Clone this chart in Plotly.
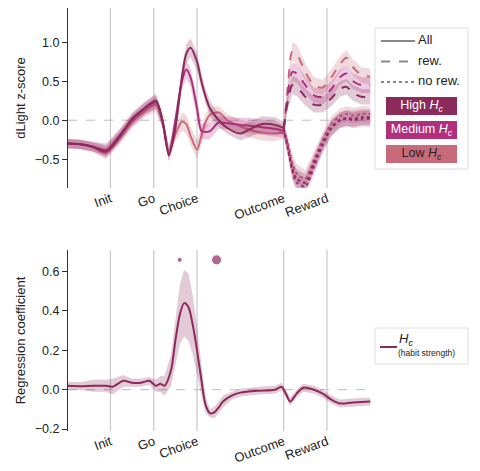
import plotly.graph_objects as go

# time axis in arbitrary units; events
event_t = [10, 20, 30, 50, 60]
event_lab = ["Init", "Go", "Choice", "Outcome", "Reward"]

HIGH = "#8c2a5c"
MED = "#b0307e"
LOW = "#c96a7a"

# "All" traces up to outcome
t_all = [0, 3, 6, 9, 12, 15, 18, 20.5, 22, 23.5, 25, 26.5, 27.5, 28.5, 30, 31, 32, 33, 35, 37, 40, 42, 45, 48, 50]
high_all = [-0.3, -0.31, -0.34, -0.4, -0.22, 0.02, 0.16, 0.25, 0.0, -0.45, -0.1, 0.55, 0.85, 0.93, 0.75, 0.5, 0.3, 0.15, 0.0, -0.1, -0.17, -0.12, -0.05, -0.06, -0.1]
med_all = [-0.3, -0.31, -0.34, -0.38, -0.2, 0.0, 0.15, 0.23, 0.0, -0.44, 0.0, 0.5, 0.65, 0.55, 0.15, -0.14, -0.15, -0.14, -0.03, -0.04, -0.06, -0.07, -0.09, -0.11, -0.14]
low_all = [-0.3, -0.31, -0.35, -0.42, -0.24, -0.02, 0.12, 0.2, -0.02, -0.4, -0.18, -0.02, -0.05, -0.2, -0.38, -0.2, -0.02, 0.07, 0.1, 0.0, -0.08, -0.12, -0.16, -0.17, -0.16]
band_all = [0.06, 0.06, 0.06, 0.08, 0.08, 0.08, 0.08, 0.09, 0.08, 0.08, 0.1, 0.12, 0.12, 0.12, 0.12, 0.1, 0.1, 0.1, 0.08, 0.08, 0.09, 0.1, 0.1, 0.1, 0.08]

# after outcome: rewarded / unrewarded
t_post = [50, 51, 52, 53, 55, 57, 59, 61, 63, 64.5, 66, 68, 70]
high_rew = [-0.1, 0.25, 0.45, 0.43, 0.3, 0.2, 0.2, 0.28, 0.4, 0.43, 0.35, 0.3, 0.3]
med_rew = [-0.12, 0.35, 0.62, 0.6, 0.45, 0.32, 0.3, 0.4, 0.55, 0.6, 0.5, 0.45, 0.45]
low_rew = [-0.15, 0.45, 0.88, 0.85, 0.62, 0.45, 0.42, 0.55, 0.72, 0.8, 0.68, 0.58, 0.56]
high_nr = [-0.1, -0.35, -0.62, -0.75, -0.8, -0.55, -0.3, -0.1, 0.0, 0.02, 0.0, 0.02, 0.02]
med_nr = [-0.12, -0.38, -0.65, -0.8, -0.85, -0.6, -0.32, -0.1, 0.0, 0.03, 0.02, 0.04, 0.04]
low_nr = [-0.15, -0.3, -0.55, -0.68, -0.75, -0.5, -0.25, -0.05, 0.05, 0.08, 0.06, 0.08, 0.08]
band_post = [0.08, 0.1, 0.12, 0.12, 0.11, 0.1, 0.1, 0.1, 0.1, 0.1, 0.1, 0.1, 0.1]

# regression coefficient of H_c
t_reg = [0, 3, 6, 9, 10.5, 13, 15, 17, 19, 20.5, 21.5, 22.5, 24, 25, 26, 27, 28, 29, 30, 31, 32, 33, 34, 35, 36, 38, 40, 44, 48, 49.5, 50.5, 51.5, 53, 54.5, 57, 59, 61, 63, 66, 70]
reg = [0.02, 0.018, 0.02, 0.02, 0.015, 0.045, 0.035, 0.035, 0.045, 0.02, 0.03, 0.02, 0.1, 0.25, 0.38, 0.44, 0.42, 0.33, 0.2, 0.05, -0.08, -0.12, -0.115, -0.09, -0.06, -0.03, -0.015, -0.005, 0.0, 0.015, -0.02, -0.06, -0.02, 0.01, 0.0, -0.02, -0.05, -0.07, -0.065, -0.06]
reg_band = [0.02, 0.02, 0.03, 0.03, 0.04, 0.03, 0.02, 0.02, 0.02, 0.03, 0.04, 0.05, 0.08, 0.12, 0.15, 0.17, 0.17, 0.15, 0.12, 0.08, 0.04, 0.02, 0.03, 0.03, 0.03, 0.02, 0.02, 0.02, 0.02, 0.02, 0.02, 0.02, 0.02, 0.02, 0.02, 0.02, 0.02, 0.02, 0.02, 0.02]
sig_t = [26, 34.5]
sig_y = [0.66, 0.66]
sig_size = [5, 10]

ML, MT, MB = 68, 8, 40


def rgba(hexc, a):
    h = hexc.lstrip("#")
    return "rgba(%d,%d,%d,%s)" % (int(h[0:2], 16), int(h[2:4], 16), int(h[4:6], 16), a)


def add_band(fig, t, y, b, color, dash, row_axes):
    xa, ya = row_axes
    up = [v + e for v, e in zip(y, b)]
    lo = [v - e for v, e in zip(y, b)]
    fig.add_trace(go.Scatter(x=t + t[::-1], y=up + lo[::-1], fill="toself", fillcolor=rgba(color, 0.25),
                             line=dict(width=0), hoverinfo="skip", showlegend=False, xaxis=xa, yaxis=ya))
    fig.add_trace(go.Scatter(x=t, y=y, mode="lines",
                             line=dict(color=color, width=2, dash=dash, shape="spline", smoothing=0.8),
                             showlegend=False, xaxis=xa, yaxis=ya))


def legend_text(fig, x, y, s, size=12, color="#222222", pos="middle right"):
    # legend labels drawn on a hidden pixel-space axis
    fig.add_trace(go.Scatter(x=[x], y=[y], mode="text", text=[s], textposition=pos,
                             textfont=dict(size=size, color=color), hoverinfo="skip",
                             showlegend=False, xaxis="x3", yaxis="y3"))


fig = go.Figure()

for y, c in [(low_all, LOW), (med_all, MED), (high_all, HIGH)]:
    add_band(fig, t_all, y, band_all, c, "solid", ("x", "y"))
for y, c in [(low_rew, LOW), (med_rew, MED), (high_rew, HIGH)]:
    add_band(fig, t_post, y, band_post, c, "dash", ("x", "y"))
for y, c in [(low_nr, LOW), (med_nr, MED), (high_nr, HIGH)]:
    add_band(fig, t_post, y, band_post, c, "dot", ("x", "y"))

add_band(fig, t_reg, reg, reg_band, HIGH, "solid", ("x2", "y2"))
fig.add_trace(go.Scatter(x=sig_t, y=sig_y, mode="markers", marker=dict(color=HIGH, size=sig_size),
                         showlegend=False, xaxis="x2", yaxis="y2"))

shapes = []
for xr, yr, y0, y1 in [("x", "y", -0.87, 1.44), ("x2", "y2", -0.21, 0.71)]:
    for t in event_t:
        shapes.append(dict(type="line", xref=xr, yref=yr, x0=t, x1=t, y0=y0, y1=y1,
                           line=dict(color="#c8c8c8", width=1.2), layer="below"))
    shapes.append(dict(type="line", xref=xr, yref=yr, x0=0.2, x1=70.4, y0=0, y1=0,
                       line=dict(color="#bbbbbb", width=1, dash="dash"), layer="below"))

# legend for top panel
L = dict(xref="x3", yref="y3")
shapes.append(dict(type="rect", x0=375, x1=468, y0=28, y1=169, line=dict(color="#dddddd", width=1),
                   fillcolor="white", layer="below", **L))
for i, (lab, dash) in enumerate([("All", "solid"), ("rew.", "dash"), ("no rew.", "dot")]):
    yy = 41 + i * 20.5
    shapes.append(dict(type="line", x0=381, x1=415, y0=yy, y1=yy, line=dict(color="#888888", width=2, dash=dash), **L))
    legend_text(fig, 418, yy, lab, size=13)
for i, (lab, c, fc) in enumerate([("High <i>H<sub>c</sub></i>", HIGH, "white"),
                                  ("Medium <i>H<sub>c</sub></i>", MED, "white"),
                                  ("Low <i>H<sub>c</sub></i>", LOW, "#222222")]):
    y0 = 97 + i * 24
    shapes.append(dict(type="rect", x0=386, x1=457, y0=y0, y1=y0 + 18, line=dict(width=0), fillcolor=c,
                       layer="below", **L))
    legend_text(fig, 421.5, y0 + 9, lab, size=12.5, color=fc, pos="middle center")

# legend for bottom panel
shapes.append(dict(type="rect", x0=375, x1=468, y0=328, y1=364, line=dict(color="#dddddd", width=1),
                   fillcolor="white", layer="below", **L))
shapes.append(dict(type="line", x0=380, x1=397, y0=347, y1=347, line=dict(color=HIGH, width=2), **L))
legend_text(fig, 399, 340, "<i>H<sub>c</sub></i>", size=13)
legend_text(fig, 398, 354, "(habit strength)", size=8.5)

xcommon = dict(range=[0.2, 70.4], tickvals=event_t, ticktext=event_lab, tickangle=-20, ticks="",
               showgrid=False, zeroline=False, showline=False, tickfont=dict(size=13, color="#222222"))
ycommon = dict(showgrid=False, zeroline=False, showline=True, linecolor="#333333", linewidth=1.2,
               ticks="outside", ticklen=5, tickcolor="#333333", tickfont=dict(size=12.5, color="#222222"))
hidden = dict(visible=False, showgrid=False, zeroline=False, fixedrange=True)
ytitle_font = dict(size=13, color="#222222")

PW, PH = 480 - ML, 471 - MT - MB


def fx(x):
    return (x - ML) / PW


def fy(y):
    return (471 - MB - y) / PH


fig.update_layout(
    width=480, height=471, plot_bgcolor="rgba(0,0,0,0)", paper_bgcolor="white",
    margin=dict(l=ML, r=0, t=MT, b=MB),
    font=dict(family="Liberation Sans, Arial", size=12, color="#222222"),
    xaxis=dict(domain=[0, fx(372)], anchor="y", **xcommon),
    yaxis=dict(domain=[fy(188), 1], range=[-0.87, 1.44], tickvals=[-0.5, 0, 0.5, 1.0],
               ticktext=["\u22120.5", "0.0", "0.5", "1.0"],
               title=dict(text="dLight z-score", standoff=6, font=ytitle_font), **ycommon),
    xaxis2=dict(domain=[0, fx(372)], anchor="y2", **xcommon),
    yaxis2=dict(domain=[0, fy(250)], range=[-0.21, 0.71], tickvals=[-0.2, 0, 0.2, 0.4, 0.6],
                ticktext=["\u22120.2", "0.0", "0.2", "0.4", "0.6"],
                title=dict(text="Regression coefficient", standoff=6, font=ytitle_font), **ycommon),
    xaxis3=dict(domain=[0, 1], range=[ML, 480], anchor="y3", **hidden),
    yaxis3=dict(domain=[0, 1], range=[471 - MB, MT], anchor="x3", **hidden),
    shapes=shapes, showlegend=False,
)

fig.write_html("out.html", config={"displayModeBar": False},
               post_script="document.body.style.margin='0';")
